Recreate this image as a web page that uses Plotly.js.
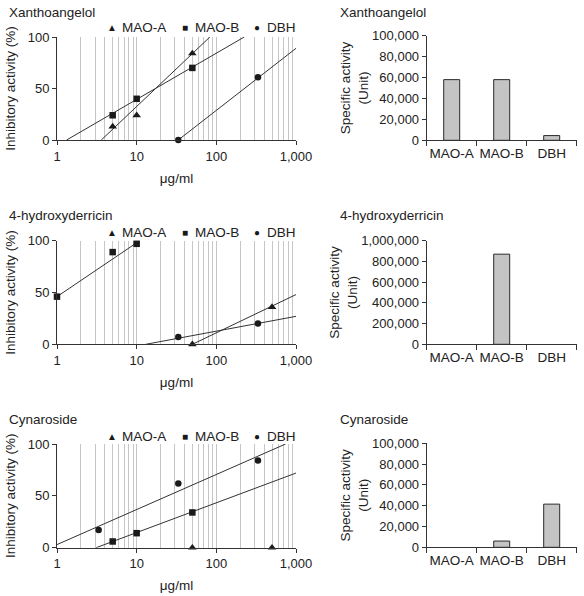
<!DOCTYPE html>
<html>
<head>
<meta charset="utf-8">
<script src="https://cdn.plot.ly/plotly-3.0.1.min.js"></script>
<style>html,body{margin:0;padding:0;background:#fff;}#chart{width:584px;height:596px;}</style>
</head>
<body>
<div id="chart"></div>
<script>
// ---------- data ----------
const compounds = ["Xanthoangelol", "4-hydroxyderricin", "Cynaroside"];
const enzymes = ["MAO-A", "MAO-B", "DBH"];

// Inhibitory activity (%) vs concentration (μg/ml)
const xan_maoA_x = [5, 10, 50];     const xan_maoA_y = [13, 24, 84];
const xan_maoB_x = [5, 10, 50];     const xan_maoB_y = [24, 40, 70];
const xan_dbh_x  = [33.3, 333];     const xan_dbh_y  = [0, 61];
const hyd_maoA_x = [50, 500];       const hyd_maoA_y = [0, 36];
const hyd_maoB_x = [1, 5, 10];      const hyd_maoB_y = [46, 89, 97];
const hyd_dbh_x  = [33.3, 333];     const hyd_dbh_y  = [7, 20];
const cyn_maoA_x = [50, 500];       const cyn_maoA_y = [0, 0];
const cyn_maoB_x = [5, 10, 50];     const cyn_maoB_y = [6, 14, 34];
const cyn_dbh_x  = [3.33, 33.3, 333]; const cyn_dbh_y = [17, 62, 84];

// regression lines (end points)
const xan_fitA_x = [3.6, 83];   const xan_fitA_y = [0, 100];
const xan_fitB_x = [1.32, 224]; const xan_fitB_y = [0, 100];
const xan_fitD_x = [33.3, 1000]; const xan_fitD_y = [0, 89];
const hyd_fitA_x = [50, 1000];  const hyd_fitA_y = [0, 48];
const hyd_fitB_x = [1, 10];     const hyd_fitB_y = [46, 98];
const hyd_fitD_x = [13, 1000];  const hyd_fitD_y = [0, 27];
const cyn_fitB_x = [3.1, 1000]; const cyn_fitB_y = [0, 72];
const cyn_fitD_x = [1, 740];    const cyn_fitD_y = [3, 100];

// Specific activity (Unit)
const xan_specific = [58000, 58000, 4500];
const hyd_specific = [0, 870000, 0];
const cyn_specific = [0, 6000, 41500];

// tick labels
const logTickVals = [1, 10, 100, 1000];
const logTickText = ["1", "10", "100", "1,000"];
const logMinorVals = [2,3,4,5,6,7,8,9,20,30,40,50,60,70,80,90,200,300,400,500,600,700,800,900];
const pctTickVals = [0, 50, 100];

// ---------- traces ----------
const ink = "#1a1a1a";
const W = 584, H = 596;
const symbols = {"MAO-A": "triangle-up", "MAO-B": "square", "DBH": "circle"};
const msize = {"MAO-A": 7.5, "MAO-B": 6.5, "DBH": 6.5};

function pts(x, y, enz, xa, ya) {
  return {type: "scatter", mode: "markers", x: x, y: y, xaxis: xa, yaxis: ya,
    name: enz, showlegend: false, cliponaxis: false,
    marker: {symbol: symbols[enz], size: msize[enz], color: ink}};
}
function fit(x, y, xa, ya) {
  return {type: "scatter", mode: "lines", x: x, y: y, xaxis: xa, yaxis: ya,
    showlegend: false, hoverinfo: "skip", line: {color: "#333", width: 1}};
}
function bars(v, xa, ya) {
  return {type: "bar", x: enzymes, y: v, xaxis: xa, yaxis: ya, width: 0.32,
    showlegend: false,
    marker: {color: "#c4c4c4", line: {color: "#2a2a2a", width: v.map(d => d > 0 ? 1 : 0)}}};
}

const data = [
  fit(xan_fitA_x, xan_fitA_y, "x", "y"),
  fit(xan_fitB_x, xan_fitB_y, "x", "y"),
  fit(xan_fitD_x, xan_fitD_y, "x", "y"),
  pts(xan_maoA_x, xan_maoA_y, "MAO-A", "x", "y"),
  pts(xan_maoB_x, xan_maoB_y, "MAO-B", "x", "y"),
  pts(xan_dbh_x, xan_dbh_y, "DBH", "x", "y"),
  bars(xan_specific, "x2", "y2"),

  fit(hyd_fitA_x, hyd_fitA_y, "x3", "y3"),
  fit(hyd_fitB_x, hyd_fitB_y, "x3", "y3"),
  fit(hyd_fitD_x, hyd_fitD_y, "x3", "y3"),
  pts(hyd_maoA_x, hyd_maoA_y, "MAO-A", "x3", "y3"),
  pts(hyd_maoB_x, hyd_maoB_y, "MAO-B", "x3", "y3"),
  pts(hyd_dbh_x, hyd_dbh_y, "DBH", "x3", "y3"),
  bars(hyd_specific, "x4", "y4"),

  fit(cyn_fitB_x, cyn_fitB_y, "x5", "y5"),
  fit(cyn_fitD_x, cyn_fitD_y, "x5", "y5"),
  pts(cyn_maoA_x, cyn_maoA_y, "MAO-A", "x5", "y5"),
  pts(cyn_maoB_x, cyn_maoB_y, "MAO-B", "x5", "y5"),
  pts(cyn_dbh_x, cyn_dbh_y, "DBH", "x5", "y5"),
  bars(cyn_specific, "x6", "y6")
];

// ---------- layout ----------
const font = {family: "Liberation Sans, Arial, sans-serif", size: 13, color: "#222"};
const TS = 13.5;   // title / legend size
const KS = 13;     // tick label size
const leftX = [57 / W, 296 / W];
const rightX = [426.7 / W, 576.7 / W];
function yd(top, bottom) { return [1 - bottom / H, 1 - top / H]; }

function logAxis(anchor) {
  return {domain: leftX, anchor: anchor, type: "log", range: [0, 3],
    tickmode: "array", tickvals: logTickVals, ticktext: logTickText,
    ticks: "outside", ticklen: 4, tickcolor: "#333",
    showline: true, linecolor: "#333", linewidth: 1,
    showgrid: true, gridcolor: "#c6c6c6", gridwidth: 1, zeroline: false,
    minor: {tickmode: "array", tickvals: logMinorVals, showgrid: true,
            gridcolor: "#c6c6c6", gridwidth: 1, ticks: ""},
    tickfont: {size: KS},
    title: {text: "μg/ml", font: {size: TS}, standoff: 10}};
}
function pctAxis(anchor, dom) {
  return {domain: dom, anchor: anchor, range: [0, 100],
    tickmode: "array", tickvals: pctTickVals,
    ticks: "outside", ticklen: 4, tickcolor: "#333",
    showline: true, linecolor: "#333", showgrid: false, zeroline: false,
    tickfont: {size: KS},
    title: {text: "Inhibitory activity (%)", font: {size: TS}, standoff: 8}};
}
function catAxis(anchor) {
  return {domain: rightX, anchor: anchor, type: "category", range: [-0.5, 2.5],
    tickson: "boundaries", ticks: "outside", ticklen: 5, tickcolor: "#333",
    tickangle: 0,
    showline: true, linecolor: "#333", showgrid: false, zeroline: false,
    tickfont: {size: TS}};
}
function specAxis(anchor, dom, maxv) {
  return {domain: dom, anchor: anchor, range: [0, maxv], dtick: maxv / 5,
    tickformat: ",d", ticks: "outside", ticklen: 4, tickcolor: "#333",
    showline: true, linecolor: "#333", showgrid: false, zeroline: false,
    tickfont: {size: KS},
    title: {text: "Specific activity<br>(Unit)", font: {size: TS}, standoff: 0}};
}

const annotations = [];
function title(text, px, py) {
  annotations.push({text: text, xref: "paper", yref: "paper", x: px / W, y: 1 - py / H,
    xanchor: "left", yanchor: "middle", showarrow: false, font: {size: TS}});
}
const legendSym = {"MAO-A": "▲", "MAO-B": "■", "DBH": "●"};
const legendSymX = {"MAO-A": 111.7, "MAO-B": 184.5, "DBH": 257};
const legendTxtX = {"MAO-A": 120, "MAO-B": 192.5, "DBH": 264.5};
function legendRow(py) {
  enzymes.forEach(e => {
    annotations.push({text: legendSym[e], xref: "paper", yref: "paper",
      x: legendSymX[e] / W, y: 1 - py / H, xanchor: "center", yanchor: "middle",
      showarrow: false, font: {size: 10, color: ink}});
    annotations.push({text: e, xref: "paper", yref: "paper",
      x: legendTxtX[e] / W, y: 1 - py / H, xanchor: "left", yanchor: "middle",
      showarrow: false, font: {size: TS}});
  });
}
title(compounds[0], 7, 12.5);  title(compounds[0], 338, 13);
title(compounds[1], 7, 215); title(compounds[1], 338, 216);
title(compounds[2], 7, 419); title(compounds[2], 338, 419);
legendRow(27); legendRow(232); legendRow(436);

const layout = {
  width: W, height: H, autosize: false,
  margin: {l: 0, r: 0, t: 0, b: 0},
  paper_bgcolor: "#fff", plot_bgcolor: "#fff",
  font: font, showlegend: false, bargap: 0,
  xaxis: logAxis("y"),  yaxis: pctAxis("x", yd(37, 140)),
  xaxis2: catAxis("y2"), yaxis2: specAxis("x2", yd(35.7, 140.3), 100000),
  xaxis3: logAxis("y3"), yaxis3: pctAxis("x3", yd(240.7, 344.3)),
  xaxis4: catAxis("y4"), yaxis4: specAxis("x4", yd(240.7, 344.3), 1000000),
  xaxis5: logAxis("y5"), yaxis5: pctAxis("x5", yd(444, 547.7)),
  xaxis6: catAxis("y6"), yaxis6: specAxis("x6", yd(443.3, 547.3), 100000),
  annotations: annotations
};

Plotly.newPlot("chart", data, layout, {displayModeBar: false, staticPlot: true});
</script>
</body>
</html>
